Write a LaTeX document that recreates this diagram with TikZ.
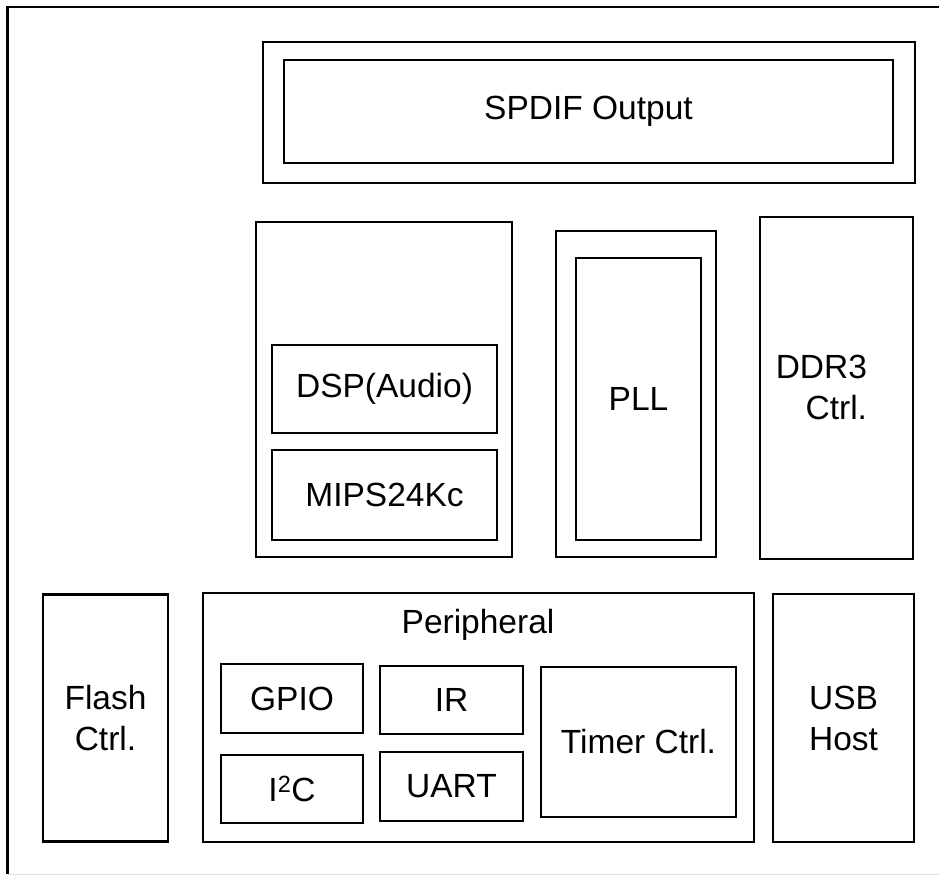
\documentclass[tikz,border=0pt]{standalone}
\usepackage{fontspec}
\setmainfont{Liberation Sans}
\begin{document}
\begin{tikzpicture}[x=1pt,y=-1pt,
  blk/.style={draw=black, line width=2.8pt, rectangle, inner sep=0pt, outer sep=0pt,
    font=\fontsize{33.5}{41}\selectfont, align=center},
  lbl/.style={inner sep=0pt, outer sep=0pt, font=\fontsize{33.5}{41}\selectfont}]
\useasboundingbox (0,0) rectangle (939,875);
% outer frame
\coordinate (ftr) at (945,7);
\coordinate (ftl) at (7.5,7);
\coordinate (fbl) at (7.5,874);
\coordinate (fbr) at (945,874);
\draw[line width=2.8pt] (ftr) -- (ftl) -- (fbl);
\draw[line width=1pt, black!12] (fbl) -- (fbr);
% SPDIF
\node[blk, minimum width=652pt, minimum height=141pt] (spdifo) at (589,112.5) {};
\node[blk, minimum width=609pt, minimum height=103pt] (spdif) at (588.5,111.5) {SPDIF Output};
% CPU group
\node[blk, minimum width=256pt, minimum height=335pt] (cpu) at (384,389.5) {};
\node[blk, minimum width=225pt, minimum height=88pt] (dsp) at (384.5,389) {DSP(Audio)};
\node[blk, minimum width=225pt, minimum height=90pt] (mips) at (384.5,495) {MIPS24Kc};
% PLL
\node[blk, minimum width=160pt, minimum height=326pt] (pllo) at (636,394) {};
\node[blk, minimum width=125pt, minimum height=282pt] (pll) at (638.5,399) {PLL};
% DDR3
\node[blk, minimum width=153pt, minimum height=342pt] (ddr) at (836.5,388) {};
\node[lbl, anchor=east, align=right] (ddrt) at (867,387) {DDR3\\Ctrl.};
% Flash
\node[blk, minimum width=125pt, minimum height=247pt] (flash) at (105.5,718) {Flash\\Ctrl.};
% Peripheral
\node[blk, minimum width=551pt, minimum height=249pt] (peri) at (478.5,717.5) {};
\node[lbl] (perit) at (478,625) {Peripheral};
\node[blk, minimum width=142pt, minimum height=69pt] (gpio) at (292,698.5) {GPIO};
\node[blk, minimum width=143pt, minimum height=68pt] (ir) at (451.5,700) {IR};
\node[blk, minimum width=142pt, minimum height=68pt] (i2c) at (292,789) {I\textsuperscript{2}C};
\node[blk, minimum width=143pt, minimum height=69pt] (uart) at (451.5,786.5) {UART};
\node[blk, minimum width=195pt, minimum height=150pt] (timer) at (638.5,742) {Timer Ctrl.};
% USB
\node[blk, minimum width=141pt, minimum height=248pt] (usb) at (843.5,718) {USB\\Host};
\end{tikzpicture}
\end{document}
